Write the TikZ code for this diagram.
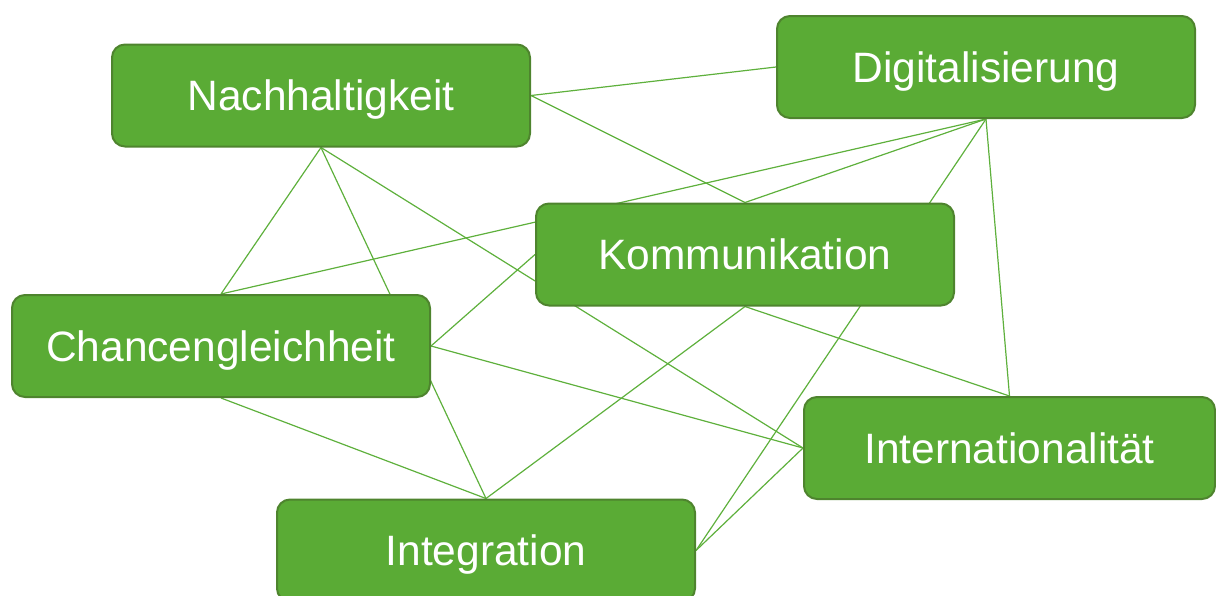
\documentclass[tikz,border=0pt]{standalone}
\usepackage{fontspec}
\setmainfont{Liberation Sans}
\usetikzlibrary{backgrounds}
\definecolor{boxfill}{RGB}{90,171,53}
\definecolor{boxline}{RGB}{78,132,46}
\definecolor{edgecol}{RGB}{94,176,60}
\tikzset{
  topic/.style={draw=boxline, line width=2pt, fill=boxfill, rounded corners=13pt,
    minimum width=418pt, minimum height=102pt, inner sep=0pt,
    text=white, font=\fontsize{42.5}{50}\selectfont, text height=30.6pt, text depth=0pt},
  link/.style={draw=edgecol, line width=1.2pt}
}
\begin{document}
\begin{tikzpicture}[x=1pt,y=-1pt]
\useasboundingbox (0,0) rectangle (1216,595);
\clip (0,0) rectangle (1216,595);
\node[topic] (N) at (321,95.5) {Nachhaltigkeit};
\node[topic] (D) at (986,67) {Digitalisierung};
\node[topic] (K) at (745,254.5) {Kommunikation};
\node[topic] (C) at (221,346) {Chancengleichheit};
\node[topic, minimum width=411pt] (I) at (1009.5,448) {Internationalität};
\node[topic] (G) at (486,550.5) {Integration};
\begin{pgfonlayer}{background}
\draw[link] (N.east) -- (D.west);
\draw[link] (N.east) -- (K.north);
\draw[link] (N.south) -- (C.north);
\draw[link] (N.south) -- (G.north);
\draw[link] (N.south) -- (I.west);
\draw[link] (D.south) -- (C.north);
\draw[link] (D.south) -- (K.north);
\draw[link] (D.south) -- (G.east);
\draw[link] (D.south) -- (I.north);
\draw[link] (C.east) -- (K.west);
\draw[link] (C.east) -- (I.west);
\draw[link] (C.south) -- (G.north);
\draw[link] (K.south) -- (G.north);
\draw[link] (K.south) -- (I.north);
\draw[link] (G.east) -- (I.west);
\end{pgfonlayer}
\end{tikzpicture}
\end{document}
